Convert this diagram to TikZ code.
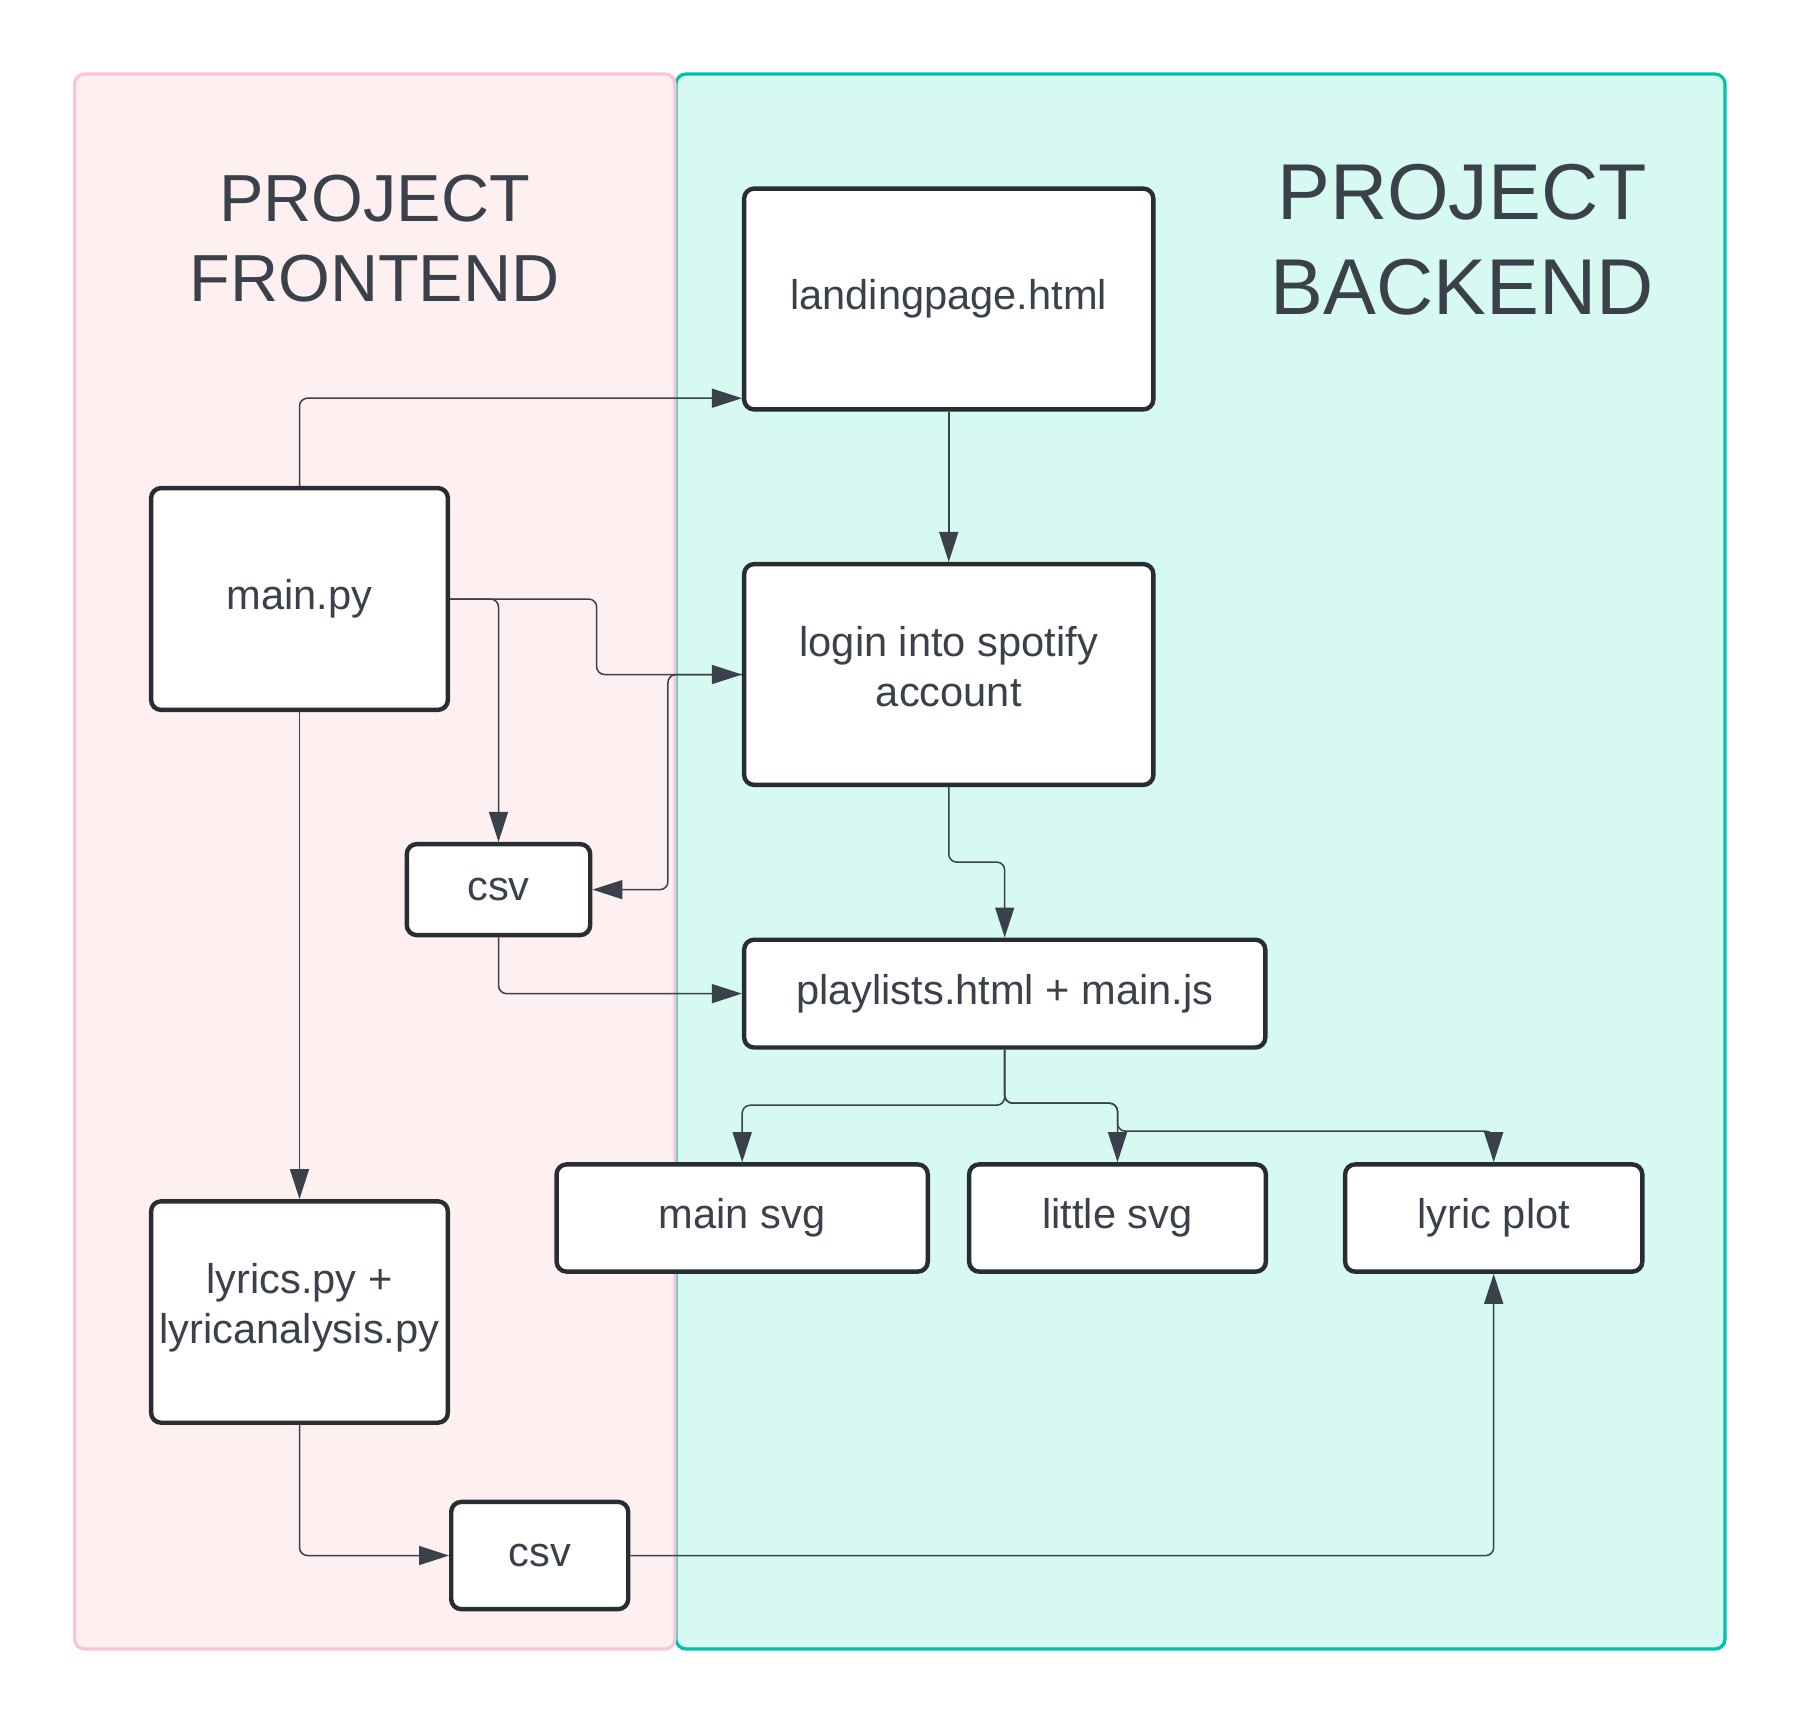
\documentclass[tikz,border=0pt]{standalone}
\usepackage{fontspec}
\setmainfont{Liberation Sans}
\usetikzlibrary{arrows.meta}
\definecolor{txt}{HTML}{3A414A}
\definecolor{edge}{HTML}{282C33}
\definecolor{wire}{HTML}{3A414A}
\definecolor{fefill}{HTML}{FEF0F0}
\definecolor{feborder}{HTML}{FBC2DB}
\definecolor{befill}{HTML}{D6F9F2}
\definecolor{beborder}{HTML}{00C2A8}
\begin{document}
\begin{tikzpicture}[x=0.5pt,y=-0.5pt,
  box/.style={draw=edge, line width=2.2pt, fill=white, rounded corners=5pt, align=center, text=txt, font=\fontsize{20.8}{24.7}\selectfont, inner sep=0pt},
  arr/.style={draw=wire, line width=0.75pt, rounded corners=4pt, -{Triangle[length=15pt,width=9.5pt]}},
  panel/.style={line width=1.6pt, rounded corners=5pt},
  ttl/.style={text=txt, align=center, inner sep=0pt}]
\useasboundingbox (0,0) rectangle (1798,1725);
% panels
\draw[panel, draw=beborder, fill=befill] (676,74) rectangle (1725,1649);
\draw[panel, draw=feborder, fill=fefill] (74.6,74) rectangle (675,1649);
% titles
\node[ttl, font=\fontsize{33.3}{40}\selectfont] (fetitle) at (374.5,238.6) {PROJECT\\FRONTEND};
\node[ttl, font=\fontsize{39.6}{47.5}\selectfont] (betitle) at (1462,239.5) {PROJECT\\BACKEND};
% boxes
\node[box, minimum width=204.6pt, minimum height=110.4pt] (landing) at (948.75,299) {landingpage.html};
\node[box, minimum width=204.6pt, minimum height=110.4pt, text depth=8pt] (login) at (948.75,674.5) {login into spotify\\account};
\node[box, minimum width=148.4pt, minimum height=110.9pt] (main) at (299.5,599) {main.py};
\node[box, minimum width=91.7pt, minimum height=45.5pt] (csva) at (498.5,889.6) {csv};
\node[box, minimum width=260.6pt, minimum height=53.9pt] (playlists) at (1004.7,993.6) {playlists.html + main.js};
\node[box, minimum width=185.6pt, minimum height=53.6pt] (mainsvg) at (742.2,1218) {main svg};
\node[box, minimum width=148.4pt, minimum height=53.6pt] (little) at (1117.5,1218) {little svg};
\node[box, minimum width=148.6pt, minimum height=53.6pt] (lyricplot) at (1493.7,1218) {lyric plot};
\node[box, minimum width=148.4pt, minimum height=110.7pt, text depth=8.4pt] (lyrics) at (299.5,1312) {lyrics.py +\\lyricanalysis.py};
\node[box, minimum width=88.5pt, minimum height=53.6pt] (csvb) at (539.7,1555.5) {csv};
% connectors
\draw[arr] (main.north) |- ([yshift=6.7pt]landing.south west);
\draw[arr] (landing.south) -- (login.north);
\draw[arr] (main.east) -- ++(146.5,0) |- (login.west);
\draw[arr] (main.east) -| (csva.north);
\draw[arr] (login.west) -- ++(-74,0) |- (csva.east);
\draw[arr] (csva.south) |- (playlists.west);
\draw[arr] (login.south) -- ++(0,75) -| (playlists.north);
\draw[arr] (playlists.south) -- ++(0,55.5) -| (mainsvg.north);
\draw[arr] (playlists.south) -- ++(0,53.5) -| (little.north);
\draw[arr] (playlists.south) -- ++(0,53.5) -| ([yshift=15.5pt]little.north) -| (lyricplot.north);
\draw[arr] (main.south) -- (lyrics.north);
\draw[arr] (lyrics.south) |- (csvb.west);
\draw[arr] (csvb.east) -| (lyricplot.south);
\end{tikzpicture}
\end{document}
